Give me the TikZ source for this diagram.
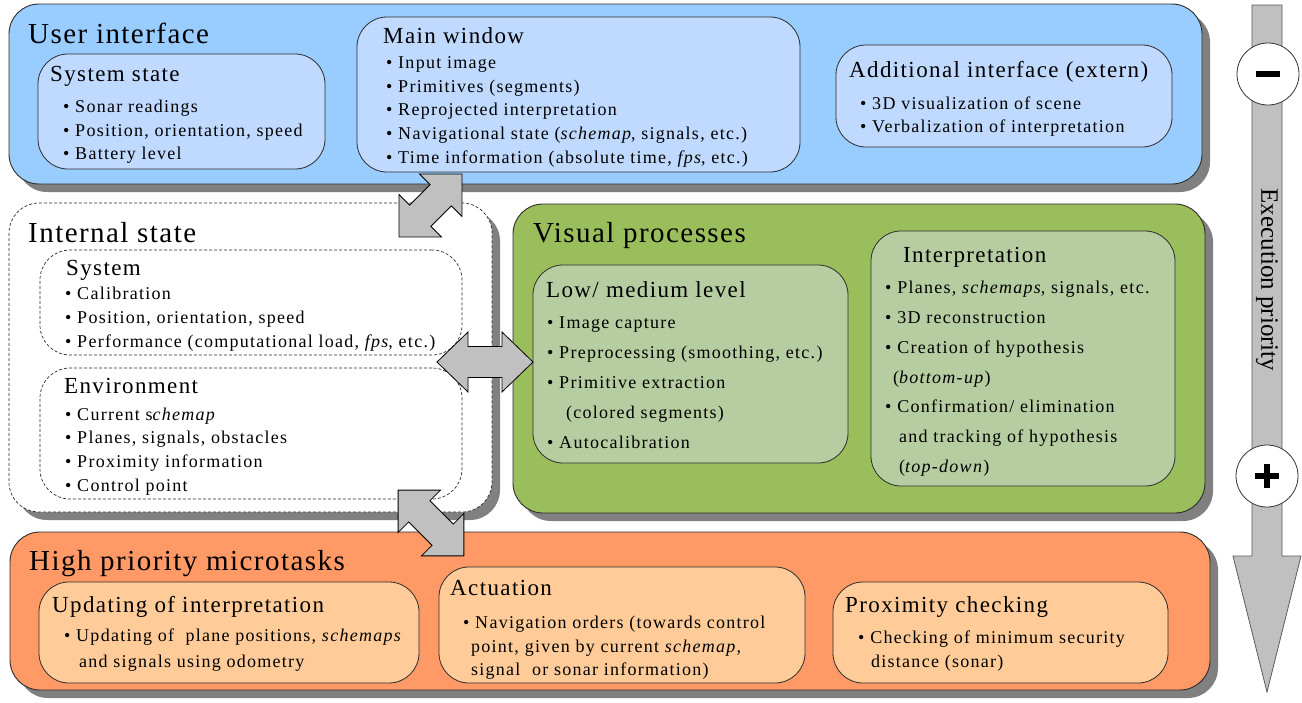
\documentclass[tikz,border=0pt]{standalone}
\usepackage{fontspec}
\setmainfont{Liberation Serif}
\newfontfamily\titlefont[LetterSpace=5]{Liberation Serif}
\newfontfamily\subfont[LetterSpace=6]{Liberation Serif}
\newfontfamily\itemfont[LetterSpace=7]{Liberation Serif}
\usetikzlibrary{shadows}

\definecolor{uiblue}{RGB}{153,204,255}
\definecolor{uiinner}{RGB}{191,217,255}
\definecolor{vpgreen}{RGB}{155,190,92}
\definecolor{vpinner}{RGB}{181,205,160}
\definecolor{hporange}{RGB}{255,153,102}
\definecolor{hpinner}{RGB}{255,204,153}
\definecolor{shadowgray}{RGB}{128,128,128}
\definecolor{arrowgray}{RGB}{192,192,192}
\definecolor{edgecol}{RGB}{45,45,45}

\tikzset{
  panel/.style={draw=edgecol, line width=0.9pt, rounded corners=30pt,
    anchor=north west, inner sep=0pt, outer sep=0pt,
    drop shadow={shadow xshift=8pt, shadow yshift=-8pt, fill=shadowgray, opacity=1}},
  subpanel/.style={draw=edgecol, line width=0.8pt, rounded corners=30pt,
    anchor=north west, inner sep=0pt, outer sep=0pt},
  dashedline/.style={dash pattern=on 3pt off 2pt, line width=0.7pt},
  bigtitle/.style={anchor=base west, inner sep=0pt, font=\titlefont\fontsize{29}{34}\selectfont},
  subtitle/.style={anchor=base west, inner sep=0pt, font=\subfont\fontsize{23}{27}\selectfont},
  item/.style={anchor=base west, inner sep=0pt, font=\itemfont\fontsize{18}{21}\selectfont},
  blockarrow/.style={draw=black, fill=arrowgray, line width=0.8pt, line join=miter},
  prioarrow/.style={draw=black!65, fill=arrowgray, line width=0.8pt, line join=miter},
  priocircle/.style={circle, draw=black!80, fill=white, line width=0.8pt,
    minimum size=62pt, inner sep=0pt},
}

\begin{document}
\begin{tikzpicture}[x=1pt,y=-1pt]
\useasboundingbox (0,0) rectangle (1302,702);

% ---------- User interface ----------
\node[panel, fill=uiblue, minimum width=1193pt, minimum height=180pt] (ui) at (9,4) {};
\node[subpanel, fill=uiinner, minimum width=287pt, minimum height=115pt] (ss) at (38,54) {};
\node[subpanel, fill=uiinner, minimum width=443pt, minimum height=155pt] (mw) at (357,17) {};
\node[subpanel, fill=uiinner, minimum width=336pt, minimum height=102pt] (ai) at (836,45) {};

\node[bigtitle] (uiT) at (28,43) {User interface};
\node[subtitle] (ssT) at (50,81) {System state};
\node[item] (ss1) at (63,112) {\textbullet\ Sonar readings};
\node[item] (ss2) at (63,136) {\textbullet\ Position, orientation, speed};
\node[item] (ss3) at (63,159) {\textbullet\ Battery level};

\node[subtitle] (mwT) at (383,43) {Main window};
\node[item] (mw1) at (386,68) {\textbullet\ Input image};
\node[item] (mw2) at (386,92) {\textbullet\ Primitives (segments)};
\node[item] (mw3) at (386,115) {\textbullet\ Reprojected interpretation};
\node[item] (mw4) at (386,139) {\textbullet\ Navigational state (\textit{schemap}, signals, etc.)};
\node[item] (mw5) at (386,163) {\textbullet\ Time information (absolute time, \textit{fps}, etc.)};

\node[subtitle] (aiT) at (849,77) {Additional interface (extern)};
\node[item] (ai1) at (860,109) {\textbullet\ 3D visualization of scene};
\node[item] (ai2) at (860,132) {\textbullet\ Verbalization of interpretation};

% ---------- Internal state ----------
\node[panel, dashedline, fill=white, minimum width=483pt, minimum height=309pt] (is) at (9,203) {};
\node[subpanel, dashedline, minimum width=422pt, minimum height=105pt] (sys) at (40,250) {};
\node[subpanel, dashedline, minimum width=422pt, minimum height=131pt] (env) at (40,368) {};

\node[bigtitle] (isT) at (28,242) {Internal state};
\node[subtitle] (sysT) at (66,275) {System};
\node[item] (sys1) at (65,299) {\textbullet\ Calibration};
\node[item] (sys2) at (65,323) {\textbullet\ Position, orientation, speed};
\node[item] (sys3) at (65,347) {\textbullet\ Performance (computational load, \textit{fps}, etc.)};
\node[subtitle] (envT) at (64,393) {Environment};
\node[item] (env1) at (65,420) {\textbullet\ Current s\textit{chemap}};
\node[item] (env2) at (65,443) {\textbullet\ Planes, signals, obstacles};
\node[item] (env3) at (65,467) {\textbullet\ Proximity information};
\node[item] (env4) at (65,491) {\textbullet\ Control point};

% ---------- Visual processes ----------
\node[panel, fill=vpgreen, minimum width=692pt, minimum height=309pt] (vp) at (513,204) {};
\node[subpanel, fill=vpinner, minimum width=315pt, minimum height=198pt] (low) at (533,265) {};
\node[subpanel, fill=vpinner, minimum width=304pt, minimum height=255pt] (int) at (871,231) {};

\node[bigtitle] (vpT) at (533,242) {Visual processes};
\node[subtitle] (lowT) at (546,297) {Low/ medium level};
\node[item] (low1) at (547,328) {\textbullet\ Image capture};
\node[item] (low2) at (547,358) {\textbullet\ Preprocessing (smoothing, etc.)};
\node[item] (low3) at (547,388) {\textbullet\ Primitive extraction};
\node[item] (low4) at (566,418) {(colored segments)};
\node[item] (low5) at (547,448) {\textbullet\ Autocalibration};

\node[subtitle] (intT) at (903,262) {Interpretation};
\node[item] (int1) at (885,293) {\textbullet\ Planes, \textit{schemaps}, signals, etc.};
\node[item] (int2) at (885,323) {\textbullet\ 3D reconstruction};
\node[item] (int3) at (885,353) {\textbullet\ Creation of hypothesis};
\node[item] (int4) at (893,383) {(\textit{bottom-up})};
\node[item] (int5) at (885,412) {\textbullet\ Confirmation/ elimination};
\node[item] (int6) at (899,442) {and tracking of hypothesis};
\node[item] (int7) at (899,472) {(\textit{top-down})};

% ---------- High priority microtasks ----------
\node[panel, fill=hporange, minimum width=1200pt, minimum height=158pt] (hp) at (10,532) {};
\node[subpanel, fill=hpinner, minimum width=380pt, minimum height=101pt] (upd) at (39,582) {};
\node[subpanel, fill=hpinner, minimum width=366pt, minimum height=116pt] (act) at (439,567) {};
\node[subpanel, fill=hpinner, minimum width=335pt, minimum height=101pt] (prox) at (833,582) {};

\node[bigtitle] (hpT) at (29,570) {High priority microtasks};
\node[subtitle] (updT) at (52,612) {Updating of interpretation};
\node[item] (upd1) at (64,641) {\textbullet\ Updating of\ \ plane positions, \textit{schemaps}};
\node[item] (upd2) at (79,667) {and signals using odometry};
\node[subtitle] (actT) at (450,595) {Actuation};
\node[item] (act1) at (463,628) {\textbullet\ Navigation orders (towards control};
\node[item] (act2) at (471,652) {point, given by current \textit{schemap,}};
\node[item] (act3) at (471,675) {signal\ \ or sonar information)};
\node[subtitle] (proxT) at (845,612) {Proximity checking};
\node[item] (prox1) at (858,643) {\textbullet\ Checking of minimum security};
\node[item] (prox2) at (871,667) {distance (sonar)};

% ---------- Exchange arrows between the blocks ----------
% user interface <-> internal state
\draw[blockarrow] (461.97,174.03) -- (461.96,216.46) -- (451.36,205.86) -- (430.86,226.36)
  -- (441.46,236.96) -- (399.03,236.97) -- (399.04,194.54) -- (409.64,205.14)
  -- (430.14,184.64) -- (419.54,174.04) -- cycle;
% internal state <-> visual processes
\draw[blockarrow] (437,362) -- (468,332) -- (468,346.5) -- (502,346.5) -- (502,332)
  -- (533,362) -- (502,392) -- (502,377.5) -- (468,377.5) -- (468,392) -- cycle;
% internal state <-> high priority microtasks
\draw[blockarrow] (398.12,490.12) -- (440.54,490.12) -- (429.94,500.72) -- (453.28,524.06)
  -- (463.88,513.46) -- (463.88,555.88) -- (421.46,555.88) -- (432.06,545.28)
  -- (408.72,521.94) -- (398.12,532.54) -- cycle;

% ---------- Execution priority scale ----------
\draw[prioarrow] (1252,5) -- (1282,5) -- (1282,556) -- (1301,556) -- (1267,692)
  -- (1233,556) -- (1252,556) -- cycle;
\node[rotate=-90, inner sep=0pt, font=\fontsize{25}{30}\selectfont] (prio) at (1267,280) {Execution priority};
\node[priocircle] (minus) at (1268,74) {};
\fill[black] ([xshift=-12pt,yshift=-3pt]minus.center) rectangle ([xshift=12pt,yshift=3pt]minus.center);
\node[priocircle] (plus) at (1267,476) {};
\fill[black] ([xshift=-12pt,yshift=-2.6pt]plus.center) rectangle ([xshift=12pt,yshift=2.6pt]plus.center);
\fill[black] ([xshift=-2.6pt,yshift=-12pt]plus.center) rectangle ([xshift=2.6pt,yshift=12pt]plus.center);

\end{tikzpicture}
\end{document}
